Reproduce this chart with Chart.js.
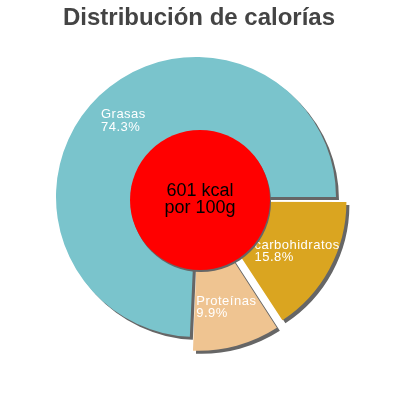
<!DOCTYPE html>
<html>
<head>
<meta charset="utf-8">
<script src="https://cdn.jsdelivr.net/npm/chart.js@4"></script>
<style>
html,body{margin:0;padding:0;background:#fff;}
canvas{display:block;}
</style>
</head>
<body>
<canvas id="c" width="400" height="400"></canvas>
<script>
const titleText = 'Distribución de calorías';
const categories = ['carbohidratos', 'Proteínas', 'Grasas'];
const percentages = [15.8, 9.9, 74.3];
const sliceColors = ['#DAA520', '#EFC491', '#7AC4CC'];
const sliceOffsets = [40, 40, 0];
const centerLines = ['601 kcal', 'por 100g'];

const FONT = '"Liberation Sans", Arial, sans-serif';

const decorPlugin = {
  id: 'decor',
  beforeDatasetsDraw(chart) {
    const ctx = chart.ctx;
    ctx.save();
    ctx.shadowColor = '#666';
    ctx.shadowOffsetX = 3;
    ctx.shadowOffsetY = 3;
    ctx.shadowBlur = 0;
  },
  afterDatasetsDraw(chart) {
    const ctx = chart.ctx;
    ctx.restore();
    const W = chart.width, H = chart.height;
    // title
    ctx.save();
    ctx.fillStyle = '#444';
    ctx.font = 'bold 24px ' + FONT;
    ctx.textAlign = 'center';
    ctx.textBaseline = 'alphabetic';
    ctx.fillText(titleText, W / 2 - 1, 25);
    ctx.restore();

    // slice labels
    const meta = chart.getDatasetMeta(0);
    ctx.save();
    ctx.fillStyle = '#fff';
    ctx.font = '13px ' + FONT;
    try { ctx.letterSpacing = '0.5px'; } catch (e) {}
    ctx.textAlign = 'left';
    ctx.textBaseline = 'alphabetic';
    meta.data.forEach((arc, i) => {
      const p = arc.getProps(['x', 'y', 'startAngle', 'endAngle', 'outerRadius']);
      const mid = (p.startAngle + p.endAngle) / 2;
      const shift = (sliceOffsets[i] || 0) / 4;
      const r = p.outerRadius * 0.75 + shift;
      const px = p.x + Math.cos(mid) * r;
      const py = p.y + Math.sin(mid) * r;
      const l1 = categories[i];
      const l2 = percentages[i].toFixed(1) + '%';
      const w = Math.max(ctx.measureText(l1).width, ctx.measureText(l2).width);
      const left = px - w / 2;
      ctx.fillText(l1, left, py - 3);
      ctx.fillText(l2, left, py + 9.5);
    });
    ctx.restore();

    // center red circle
    ctx.save();
    ctx.shadowColor = '#666';
    ctx.shadowOffsetX = 1;
    ctx.shadowOffsetY = 2;
    ctx.shadowBlur = 0;
    ctx.beginPath();
    ctx.arc(W / 2, H / 2, 70, 0, Math.PI * 2);
    ctx.fillStyle = '#FF0000';
    ctx.fill();
    ctx.restore();

    ctx.save();
    ctx.fillStyle = '#000';
    ctx.font = '18px ' + FONT;
    ctx.textAlign = 'center';
    ctx.textBaseline = 'alphabetic';
    ctx.fillText(centerLines[0], W / 2, 196);
    ctx.fillText(centerLines[1], W / 2, 213);
    ctx.restore();
  }
};

new Chart(document.getElementById('c'), {
  type: 'pie',
  data: {
    labels: categories,
    datasets: [{
      data: percentages,
      backgroundColor: sliceColors,
      offset: sliceOffsets,
      borderWidth: 0
    }]
  },
  options: {
    responsive: false,
    devicePixelRatio: 1,
    animation: false,
    rotation: 90,
    radius: 140,
    layout: { padding: { left: 46, right: 54, top: 47, bottom: 53 } },
    plugins: {
      legend: { display: false },
      title: { display: false },
      tooltip: { enabled: false }
    }
  },
  plugins: [decorPlugin]
});
</script>
</body>
</html>
